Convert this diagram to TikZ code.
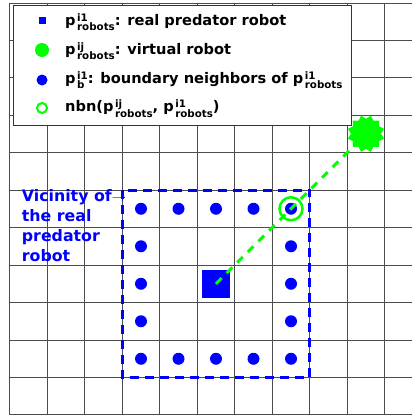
\documentclass[tikz,border=0pt]{standalone}
\usepackage{fontspec}
\setmainfont{DejaVu Sans}
\usetikzlibrary{shapes.geometric}
\definecolor{pgreen}{RGB}{0,255,0}
\definecolor{pblue}{RGB}{0,0,255}
\newcommand\scrfont{\fontsize{10.3}{11}\selectfont\bfseries}
\newcommand\pSS[2]{p\kern1.5pt\setbox0\hbox{\scrfont #1}\setbox2\hbox{\scrfont #2}%
  \ifdim\wd0>\wd2 \rlap{\raisebox{-5.5pt}{\box2}}\raisebox{4pt}{\box0}%
  \else\rlap{\raisebox{4pt}{\box0}}\raisebox{-5.5pt}{\box2}\fi}
\begin{document}
\begin{tikzpicture}[x=1pt,y=-1pt,
  gridline/.style={draw=black!70, line width=1pt},
  dot/.style={circle, fill=pblue, minimum size=12pt, inner sep=0pt},
  vicbox/.style={draw=pblue, line width=2.8pt, dash pattern=on 9pt off 6pt},
  link/.style={draw=pgreen, line width=3pt, dash pattern=on 8pt off 7pt},
  legtext/.style={anchor=base west, inner sep=0pt, font=\fontsize{14.6}{16}\selectfont\bfseries},
  victext/.style={anchor=base west, inner sep=0pt, text=pblue, font=\fontsize{15.8}{20}\selectfont\bfseries},
]
\useasboundingbox (0,0) rectangle (412,415);
\fill[white] (0,0) rectangle (412,415);
% grid
\foreach \i in {0,...,10} \draw[gridline] ({9.7+37.5*\i},3) -- ({9.7+37.5*\i},415);
\foreach \j in {0,...,11} \draw[gridline] (9.7,{3+37.45*\j}) -- (412,{3+37.45*\j});
% vicinity box
\draw[vicbox] (122.2,190.25) rectangle (309.7,377.5);
% boundary neighbours
\foreach \k in {0,...,4} {
  \node[dot] (dt-\k) at ({141+37.5*\k},208.75) {};
  \node[dot] (db-\k) at ({141+37.5*\k},358.75) {};
}
\foreach \k in {1,2,3} {
  \node[dot] (dl-\k) at (141,{208.75+37.5*\k}) {};
  \node[dot] (dr-\k) at (291,{208.75+37.5*\k}) {};
}
% real robot and virtual robot
\node[fill=pblue, minimum size=28.5pt, inner sep=0pt] (sq) at (216,283.75) {};
\node[star, star points=12, star point ratio=0.8, fill=pgreen, minimum size=30pt, inner sep=0pt] (vr) at (366,133.75) {};
\draw[link] (sq.center) -- (vr.center);
\node[circle, draw=pgreen, line width=2.5pt, minimum size=23pt, inner sep=0pt] (nbn) at (291,208.75) {};
% vicinity label
\node[victext] (v1) at (21.7,201.7) {Vicinity of$\rightarrow$};
\node[victext] (v2) at (21.7,221.7) {the real};
\node[victext] (v3) at (21.7,241.7) {predator};
\node[victext] (v4) at (21.7,261.7) {robot};
% legend
\node[draw=black!80, line width=0.8pt, fill=white, minimum width=337.7pt, minimum height=120.3pt, anchor=north west, inner sep=0pt] (leg) at (13.3,4.7) {};
\node[fill=pblue, minimum size=7pt, inner sep=0pt] (m1) at (42,20) {};
\node[circle, fill=pgreen, minimum size=14pt, inner sep=0pt] (m2) at (42,50) {};
\node[dot, minimum size=11pt] (m3) at (42,80) {};
\node[circle, draw=pgreen, line width=2pt, minimum size=10pt, inner sep=0pt] (m4) at (42,108) {};
\node[legtext] (t1) at (65,25.5) {\pSS{i1}{robots}: real predator robot};
\node[legtext] (t2) at (65,54) {\pSS{ij}{robots}: virtual robot};
\node[legtext] (t3) at (65,83.3) {\pSS{i1}{b}: boundary neighbors of \pSS{i1}{robots}};
\node[legtext] (t4) at (65,111.7) {nbn(\pSS{ij}{robots}, \pSS{i1}{robots})};
\end{tikzpicture}
\end{document}
